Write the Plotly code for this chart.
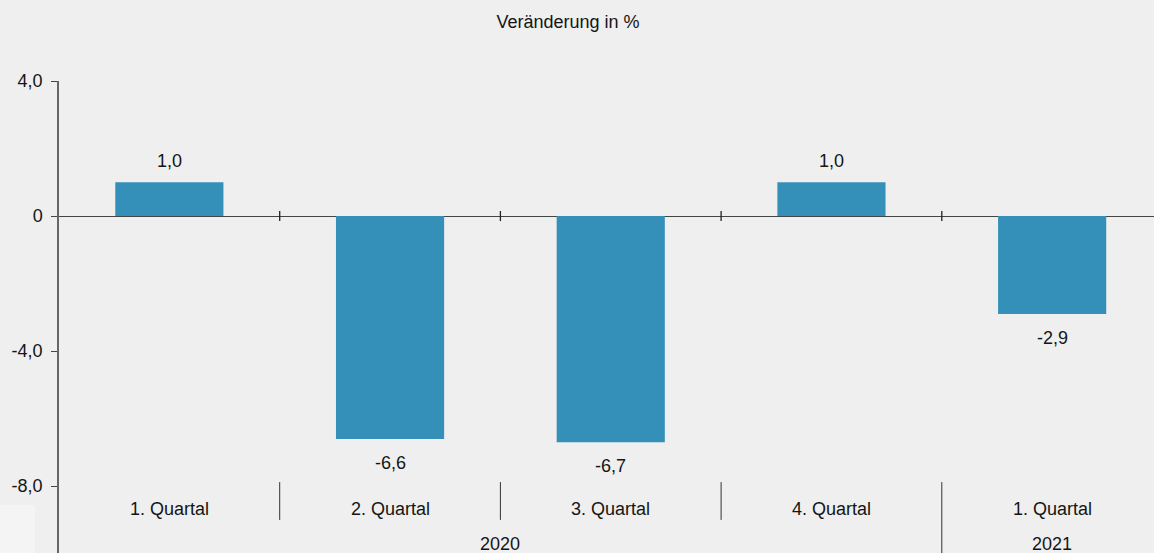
import plotly.graph_objects as go

quarters = ["1. Quartal", "2. Quartal", "3. Quartal", "4. Quartal", "1. Quartal"]
years = ["2020", "2021"]
year_spans = [(0, 3), (4, 4)]
values = [1.0, -6.6, -6.7, 1.0, -2.9]
y_ticks = [-8, -4, 0, 4]
y_ticktext = ["-8,0", "-4,0", "0", "4,0"]

BG = "#eeefee"
BAR = "#3490b8"
TXT = "#151515"
FONT = "Liberation Sans, Arial, sans-serif"
FS = 18

x = list(range(len(values)))
ymin, ymax = -9.98, 4.0

fig = go.Figure()
fig.add_trace(go.Bar(x=x, y=values, marker=dict(color=BAR, line=dict(width=0)),
                     width=0.49, hoverinfo="skip"))

ann = []
for xi, v in zip(x, values):
    ann.append(dict(x=xi, y=v, xref="x", yref="y", text=f"{v:.1f}".replace(".", ","),
                    showarrow=False, yshift=21 if v >= 0 else -24,
                    font=dict(size=FS, color=TXT, family=FONT)))
for xi, q in zip(x, quarters):
    ann.append(dict(x=xi, y=-8.68, xref="x", yref="y", text=q, showarrow=False,
                    font=dict(size=FS, color=TXT, family=FONT)))
for yr, (a, b) in zip(years, year_spans):
    ann.append(dict(x=(a + b) / 2, y=-9.70, xref="x", yref="y", text=yr, showarrow=False,
                    font=dict(size=FS, color=TXT, family=FONT)))

shapes = []
for i in range(len(values) - 1):
    b = i + 0.5
    shapes.append(dict(type="line", xref="x", yref="y", x0=b, x1=b, y0=-0.15, y1=0.15,
                       line=dict(color="#222", width=1.3)))
    is_year_sep = any(b == s[1] + 0.5 for s in year_spans[:-1])
    shapes.append(dict(type="line", xref="x", yref="y", x0=b, x1=b, y0=-7.88,
                       y1=ymin if is_year_sep else -9.0,
                       line=dict(color="#333", width=1)))
shapes.append(dict(type="rect", xref="paper", yref="paper", x0=-59/1095, x1=-24/1095,
                   y0=0, y1=48/472, fillcolor="#f3f4f3", line=dict(width=0), layer="below"))

fig.update_layout(
    width=1154, height=553,
    margin=dict(l=59, r=0, t=81, b=0),
    paper_bgcolor=BG, plot_bgcolor=BG,
    showlegend=False,
    font=dict(family=FONT, size=FS, color=TXT),
    title=dict(text="Veränderung in %", x=568/1154, xanchor="center",
               y=1 - 22/553, yanchor="middle", xref="container", yref="container",
               font=dict(size=FS, color=TXT, family=FONT)),
    xaxis=dict(range=[-0.5, -0.5 + 1095/220.7], showticklabels=False, showgrid=False,
               zeroline=False, showline=False, ticks=""),
    yaxis=dict(range=[ymin, ymax], tickvals=y_ticks, ticktext=y_ticktext,
               showgrid=False, zeroline=True, zerolinecolor="#444", zerolinewidth=1.3,
               showline=True, linecolor="#666", linewidth=1.5, ticks="outside",
               ticklen=6, tickcolor="#444", ticklabelstandoff=5,
               tickfont=dict(size=FS, color=TXT)),
    annotations=ann, shapes=shapes,
)

fig.write_html("out.html", config={"displayModeBar": False},
               post_script="document.body.style.margin='0';document.body.style.overflow='hidden';")
